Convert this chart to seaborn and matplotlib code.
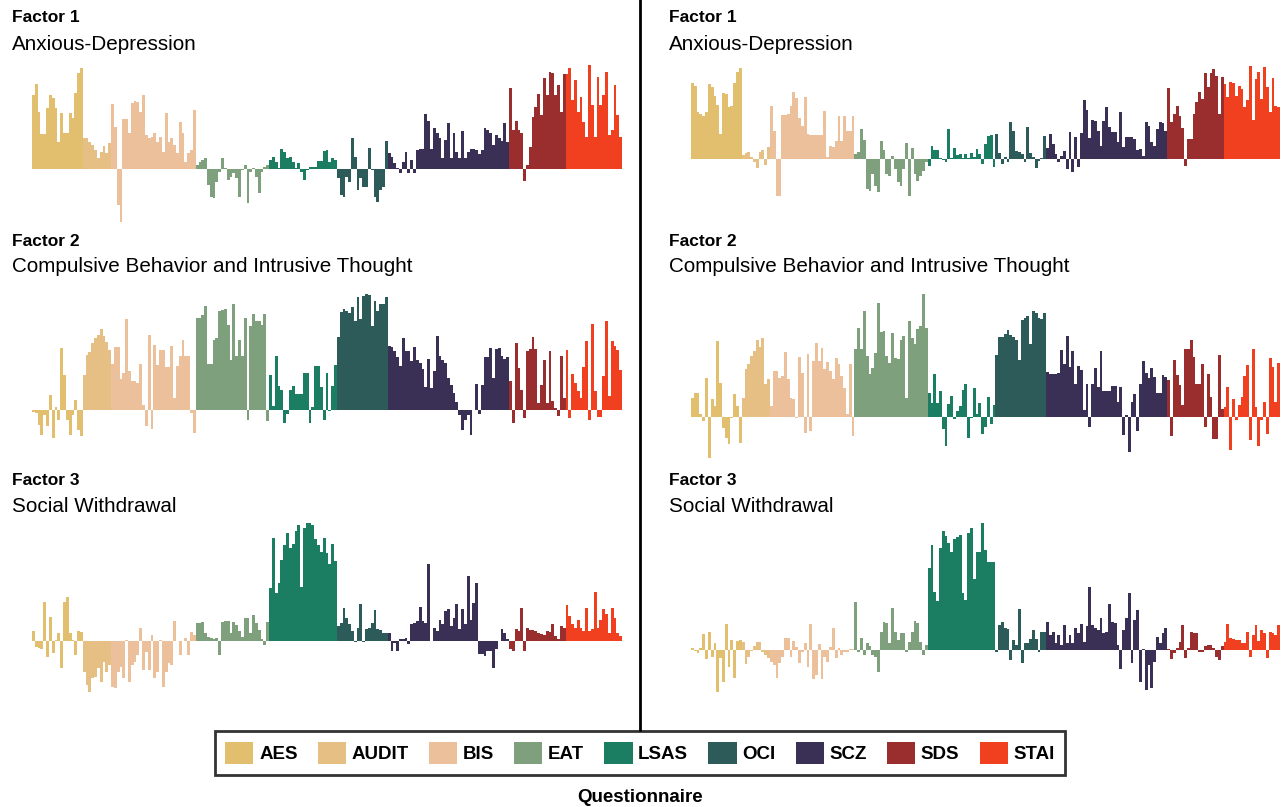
import numpy as np
import pandas as pd
import seaborn as sns
import matplotlib.pyplot as plt
from matplotlib.patches import Patch
from matplotlib.lines import Line2D

# questionnaire blocks (items per questionnaire)
questionnaires = ['AES', 'AUDIT', 'BIS', 'EAT', 'LSAS', 'OCI', 'SCZ', 'SDS', 'STAI']
n_items = [18, 10, 30, 26, 24, 18, 43, 20, 20]
colors = ['#E2BF6E', '#E6BF84', '#EBC09A', '#7FA07C', '#1B7D62', '#2D5B5A', '#3A2F55', '#9A2E2E', '#F0401F']

factor_names = ['Anxious-Depression', 'Compulsive Behavior and Intrusive Thought', 'Social Withdrawal']

# item loadings (x100)
left_f1 = [74,85,57,35,35,61,74,71,61,27,56,36,36,56,51,76,96,101,
           31,31,27,24,19,11,17,23,16,26,
           65,42,-36,-53,50,50,36,66,68,67,57,74,34,31,32,36,27,32,17,56,27,31,24,16,47,36,7,16,19,59,
           4,7,9,11,-16,-28,-29,-13,-3,11,1,-11,-8,-4,-9,-28,-1,4,-34,-3,1,-8,-24,-3,2,4,
           9,12,7,1,20,17,11,12,7,1,6,-3,-11,-1,2,2,2,8,8,18,19,7,11,9,
           -9,-26,-28,-8,-13,31,12,-21,-9,-18,-18,21,-1,-28,-33,-21,-18,28,
           16,12,6,1,-4,7,17,-4,9,-4,19,20,20,55,48,20,41,36,31,11,29,46,11,36,17,11,38,11,17,20,20,19,15,19,41,39,36,24,34,31,28,46,27,
           81,39,48,39,36,-12,4,22,52,62,75,54,91,74,97,96,74,84,57,95,
           95,101,69,89,57,72,47,32,104,64,32,92,64,74,97,34,39,84,54,32]

left_f2 = [-2,-3,-15,-25,-5,-16,15,-28,3,-10,62,35,-10,-25,-5,10,-20,-26,
           35,55,58,67,72,75,81,74,68,60,
           46,63,63,31,37,91,39,29,29,27,46,5,-16,75,-19,65,45,60,60,43,43,64,12,44,54,70,54,54,-3,-23,
           92,92,95,104,46,46,70,72,99,100,101,85,50,106,54,70,54,92,-10,84,96,89,89,85,96,-11,
           35,4,54,24,20,-13,-4,20,24,16,16,16,37,37,-13,3,44,44,23,-10,37,-1,24,45,
           73,98,101,99,97,103,89,113,91,114,116,115,84,109,99,106,106,113,
           64,63,59,53,44,72,59,59,49,63,50,47,41,23,51,22,39,74,54,50,47,32,25,17,8,-5,-20,-10,-5,-25,0,26,-4,25,53,53,62,32,61,62,54,51,53,
           29,-13,67,42,20,-8,59,61,73,61,7,25,50,7,59,9,2,-6,54,12,
           60,-8,36,27,19,12,43,69,-10,86,19,-7,-7,34,89,14,69,64,60,40]

left_f3 = [10,-6,-7,-8,39,-16,24,-12,1,8,-27,39,44,8,1,-14,10,9,
           -31,-44,-51,-37,-36,-27,-41,-21,-31,-24,
           -46,-47,-31,-26,-37,1,-41,-24,-21,-14,13,-29,-11,-29,6,-37,-31,1,-46,-31,-22,-24,20,0,-14,0,3,-14,9,6,
           18,18,19,8,4,3,2,3,-14,19,20,20,8,19,16,10,4,23,23,8,26,18,11,2,-4,19,
           53,103,48,58,81,96,108,93,97,110,116,54,113,118,118,116,102,96,89,103,88,77,97,80,
           15,18,33,23,17,10,-1,13,37,-1,12,13,18,31,12,11,8,8,
           8,-10,-2,-10,2,2,3,-3,17,18,20,34,20,18,77,0,13,10,21,17,30,32,15,23,37,12,32,17,65,21,38,58,-13,-13,-15,-10,-10,-27,-8,0,12,8,2,
           -8,-10,12,10,33,-10,13,11,11,10,8,7,6,10,9,17,5,2,15,13,
           36,25,17,13,21,13,10,33,10,12,49,13,21,32,27,8,33,23,8,5]

right_f1 = [76,73,47,45,43,47,75,72,63,54,25,66,65,52,53,76,87,91,
            4,6,7,2,-3,-9,7,9,-6,12,
            53,28,-37,-37,44,44,45,53,67,61,41,33,62,25,24,24,24,24,24,48,2,13,12,18,43,18,43,28,28,43,
            5,7,30,19,-30,-32,-15,-27,-33,18,9,-15,-17,3,-10,-23,-27,-10,16,-37,11,-15,-22,-17,-12,-3,
            -7,13,9,9,1,-1,-3,30,1,11,4,5,1,5,1,6,2,10,5,-5,15,23,24,-8,
            25,6,-5,2,-3,37,28,8,7,5,-3,32,6,2,-9,-2,1,23,
            11,25,15,5,-3,3,8,-10,27,-13,22,-8,26,59,49,21,39,38,28,13,38,52,32,27,27,17,47,12,22,22,22,20,9,10,3,37,33,17,13,30,37,36,28,
            71,37,45,53,43,31,-7,20,20,45,57,67,60,86,72,86,90,83,45,82,
            75,62,77,76,63,73,70,52,59,93,39,80,87,60,92,72,47,81,53,52]

right_f2 = [19,24,24,3,-4,39,-41,18,11,76,34,-11,-21,-27,-1,23,11,-26,
            19,48,53,61,66,77,70,79,33,38,
            11,46,46,39,41,65,38,19,18,-1,60,44,-16,63,-14,56,74,56,69,48,55,46,38,59,53,41,29,3,53,-19,
            68,89,68,106,61,43,49,64,114,85,86,61,54,84,59,58,77,81,19,96,79,73,88,91,123,89,
            24,14,43,14,26,-12,-29,13,21,-2,6,11,27,33,-21,-1,29,3,14,-17,-10,20,-7,12,
            62,80,80,83,87,82,80,77,57,97,99,101,73,106,104,99,98,104,
            45,43,43,43,44,67,53,81,50,66,33,51,47,7,33,-10,33,49,30,66,26,26,26,31,31,15,30,-18,2,-35,15,23,-14,33,56,44,39,49,40,24,24,42,40,
            37,-19,57,42,32,12,68,68,77,60,33,33,53,-10,43,20,-22,-22,62,8,
            10,30,-33,18,-3,12,20,41,52,-23,68,10,-29,-3,15,-17,59,50,15,54]

right_f3 = [2,-1,-3,2,16,-9,18,-7,7,-42,-8,-32,26,-17,10,-28,9,10,
            8,-14,-7,-1,4,8,8,-2,-5,-8,
            -12,-15,-28,-13,-7,12,12,-7,9,3,-13,-2,7,-17,26,-29,-25,6,-29,-7,-12,3,22,-8,2,-5,-2,-2,1,1,
            48,-2,12,-5,7,4,-5,-7,-22,18,28,27,7,42,18,10,17,17,-2,8,18,29,27,8,-5,5,
            82,105,58,49,102,119,114,107,98,111,113,115,57,50,117,122,71,98,98,127,100,88,88,88,
            -2,25,28,22,21,-10,10,5,41,-13,7,7,11,20,11,-2,18,18,
            28,15,18,7,15,5,25,7,15,7,22,17,26,8,24,63,25,22,20,32,17,18,46,28,27,5,-19,20,32,57,-13,30,40,-32,1,-40,-15,-38,-12,13,7,17,22,
            1,-9,-3,2,8,25,-8,2,18,17,17,-2,-2,4,5,5,2,-7,-10,4,
            8,26,12,11,10,10,7,7,18,-7,15,25,9,20,17,-8,18,17,15,25]

W, H = 1282, 807
fig = plt.figure(figsize=(W / 100, H / 100), dpi=100)
plt.rcParams['font.family'] = ['Liberation Sans', 'DejaVu Sans']

q_labels = np.repeat(questionnaires, n_items)
palette = dict(zip(questionnaires, colors))

# panel layout in pixels: (x0, x1) per column, (top, bottom, baseline) per row
cols = [(32, 622), (691, 1280)]
rows = [[(60, 232, 169.3), (288, 462, 410), (515, 700, 641)],
        [(60, 232, 158.7), (288, 462, 417.3), (515, 700, 650)]]
panels = [[left_f1, left_f2, left_f3], [right_f1, right_f2, right_f3]]
title_y = [(18, 44), (242, 267), (481, 506)]
text_x = [12, 669]

for c in range(2):
    x0, x1 = cols[c]
    for r in range(3):
        top, bot, base = rows[c][r]
        ax = fig.add_axes([x0 / W, 1 - bot / H, (x1 - x0) / W, (bot - top) / H])
        df = pd.DataFrame({'item': np.arange(len(q_labels)),
                           'loading': np.array(panels[c][r]) / 100.0,
                           'q': q_labels})
        sns.barplot(data=df, x='item', y='loading', hue='q', palette=palette,
                    dodge=False, width=1.0, saturation=1,
                    edgecolor='none', linewidth=0, legend=False, ax=ax)
        ax.set_xlim(-0.5, len(q_labels) - 0.5)
        ax.set_ylim(-(bot - base) / 100, (base - top) / 100)
        ax.axis('off')
        fig.text(text_x[c] / W, 1 - title_y[r][0] / H, 'Factor %d' % (r + 1),
                 fontsize=12.5, fontweight='bold', va='center', ha='left')
        fig.text(text_x[c] / W, 1 - title_y[r][1] / H, factor_names[r],
                 fontsize=14.9, va='center', ha='left')

# divider between the two samples
fig.add_artist(Line2D([640 / W, 640 / W], [1, 1 - 730 / H], color='black', lw=2))

handles = [Patch(facecolor=palette[q], edgecolor='none', label=q) for q in questionnaires]
leg = fig.legend(handles=handles, loc='center', bbox_to_anchor=(640 / W, 1 - 753 / H),
                 ncol=9, frameon=True, fancybox=False,
                 handlelength=1.5, handleheight=1.5, handletextpad=0.3,
                 columnspacing=1.08, borderpad=0.55, borderaxespad=0,
                 prop={'weight': 'bold', 'size': 13.5})
leg.get_frame().set_edgecolor('black')
leg.get_frame().set_linewidth(2)
fig.text(640 / W, 1 - 797 / H, 'Questionnaire', fontsize=13.5, fontweight='bold',
         ha='center', va='center')

fig.savefig('out.png', dpi=100)
